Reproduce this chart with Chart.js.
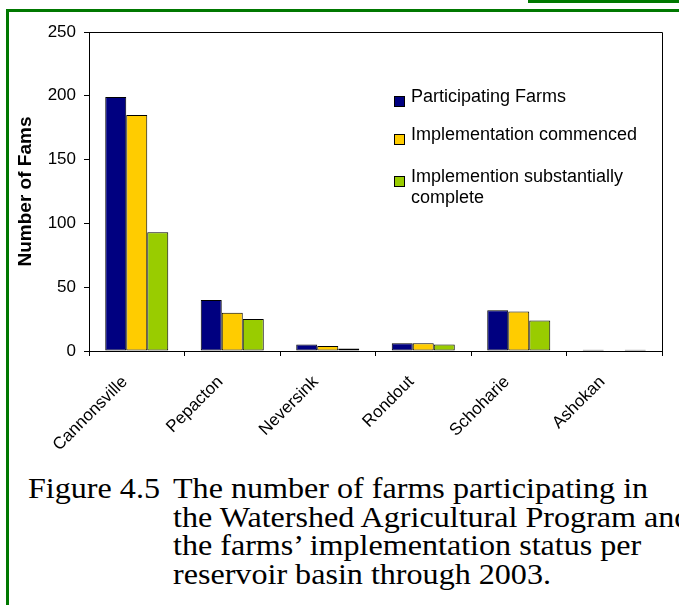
<!DOCTYPE html>
<html>
<head>
<meta charset="utf-8">
<script src="https://cdn.jsdelivr.net/npm/chart.js@4/dist/chart.umd.min.js"></script>
<style>
  html, body { margin: 0; padding: 0; background: #fff; }
  #page { position: relative; width: 679px; height: 605px; overflow: hidden; background: #fff; }
  .rule { position: absolute; background: #007800; }
  #chartBox { position: absolute; left: 0; top: 0; width: 679px; height: 470px; }
  #legend { position: absolute; left: 0; top: 0; font-family: "Liberation Sans", Arial, sans-serif; font-size: 18px; line-height: 21px; color: #000; }
  .item { position: absolute; left: 394px; white-space: nowrap; }
  .swatch { position: absolute; left: 0; top: 10px; width: 9px; height: 9px; border: 1px solid #000; }
  .label { position: absolute; left: 17px; top: 0; }
  .caption { position: absolute; font-family: "Liberation Serif", "Times New Roman", serif; font-size: 30px; line-height: 28.5px; color: #000; white-space: nowrap; transform: scaleX(1.07); transform-origin: 0 0; }
</style>
</head>
<body>
<div id="page">
  <div class="rule" style="left:6px; top:9px; width:3px; height:596px;"></div>
  <div class="rule" style="left:6px; top:9px; width:673px; height:3px;"></div>
  <div class="rule" style="left:528px; top:0px; width:151px; height:3px;"></div>
  <div id="chartBox"><canvas id="chart" width="679" height="470"></canvas></div>
  <div id="legend"></div>
  <div class="caption" style="left:28px; top:474px;">Figure 4.5</div>
  <div class="caption" style="left:173px; top:474px;">The number of farms participating in<br>the Watershed Agricultural Program and<br>the farms’ implementation status per<br>reservoir basin through 2003.</div>
</div>
<script>
// Reservoir basins and farm counts per implementation stage
const basins = ["Cannonsville", "Pepacton", "Neversink", "Rondout", "Schoharie", "Ashokan"];
const participatingFarms = [199, 40, 5, 6, 32, 1];
const implementationCommenced = [185, 30, 4, 6, 31, 0];
const substantiallyComplete = [93, 25, 2, 5, 24, 1];
const seriesNames = ["Participating Farms", "Implementation commenced", ["Implemention substantially", "complete"]];
const seriesColors = ["#000080", "#FFCC00", "#99CC00"];
const yTicks = [0, 50, 100, 150, 200, 250];

const ink = "#000";
const sans = "'Liberation Sans', Arial, sans-serif";

// Closes the plot frame on its top and right sides
const frame = {
  id: "frame",
  afterDatasetsDraw(chart) {
    const { ctx, chartArea: a } = chart;
    ctx.save();
    ctx.strokeStyle = ink;
    ctx.lineWidth = 1;
    ctx.beginPath();
    ctx.moveTo(Math.round(a.left) + 0.5, Math.round(a.top) + 0.5);
    ctx.lineTo(Math.round(a.right) + 0.5, Math.round(a.top) + 0.5);
    ctx.lineTo(Math.round(a.right) + 0.5, Math.round(a.bottom) + 0.5);
    ctx.stroke();
    ctx.restore();
  }
};

const values = [participatingFarms, implementationCommenced, substantiallyComplete];
const chart = new Chart(document.getElementById("chart"), {
  type: "bar",
  data: {
    labels: basins,
    datasets: values.map((v, i) => ({
      label: Array.isArray(seriesNames[i]) ? seriesNames[i].join(" ") : seriesNames[i],
      data: v,
      backgroundColor: seriesColors[i],
      borderColor: ink,
      borderWidth: 1,
      borderSkipped: false,
      categoryPercentage: 0.66,
      barPercentage: 1.0
    }))
  },
  options: {
    responsive: false,
    animation: false,
    layout: { padding: { left: 14, right: 17, top: 32, bottom: 0 } },
    plugins: { legend: { display: false }, tooltip: { enabled: false } },
    scales: {
      x: {
        grid: { offset: true, drawOnChartArea: false, drawTicks: true, tickLength: 5, color: ink },
        border: { color: ink },
        ticks: { color: ink, font: { family: sans, size: 17 }, maxRotation: 45, minRotation: 45, padding: 16, labelOffset: -12, autoSkip: false },
        afterFit(s) { s.height = 119; }
      },
      y: {
        min: 0, max: 250,
        afterBuildTicks(s) { s.ticks = yTicks.map(v => ({ value: v })); },
        grid: { drawOnChartArea: false, drawTicks: true, tickLength: 5, color: ink },
        border: { color: ink },
        ticks: { color: ink, font: { family: sans, size: 17 }, padding: 8 },
        title: { display: true, text: "Number of Fams", color: ink, font: { family: sans, size: 19, weight: "bold" }, padding: 0 },
        afterFit(s) { s.width = 75; }
      }
    }
  },
  plugins: [frame]
});

// Legend entries, stacked inside the plot area
const legend = document.getElementById("legend");
const itemTops = [86, 124, 166];
seriesNames.forEach((name, i) => {
  const item = document.createElement("div");
  item.className = "item";
  item.style.top = itemTops[i] + "px";
  const sw = document.createElement("span");
  sw.className = "swatch";
  sw.style.background = seriesColors[i];
  const tx = document.createElement("span");
  tx.className = "label";
  tx.innerHTML = (Array.isArray(name) ? name : [name]).join("<br>");
  item.appendChild(sw);
  item.appendChild(tx);
  legend.appendChild(item);
});
</script>
</body>
</html>
